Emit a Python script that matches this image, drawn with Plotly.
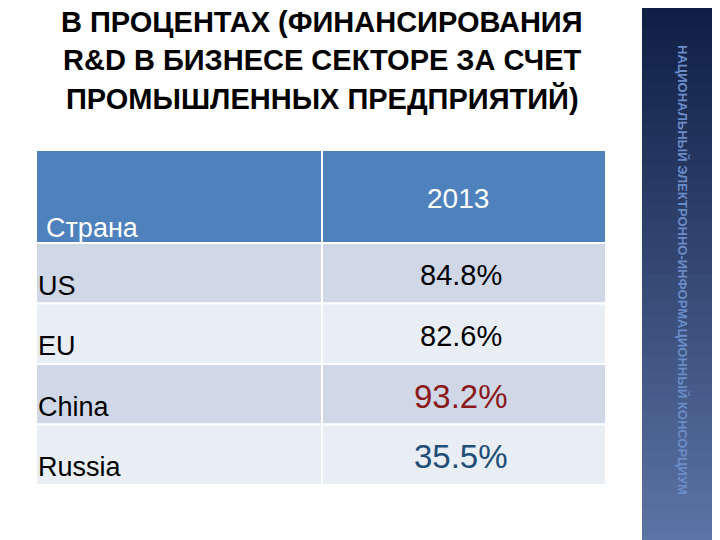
import plotly.graph_objects as go

title_lines = ["В ПРОЦЕНТАХ (ФИНАНСИРОВАНИЯ", "R&D В БИЗНЕСЕ СЕКТОРЕ ЗА СЧЕТ", "ПРОМЫШЛЕННЫХ ПРЕДПРИЯТИЙ)"]
header = ["Страна", "2013"]
countries = ["US", "EU", "China", "Russia"]
values = ["84.8%", "82.6%", "93.2%", "35.5%"]
side_text = "НАЦИОНАЛЬНЫЙ ЭЛЕКТРОННО-ИНФОРМАЦИОННЫЙ КОНСОРЦИУМ"

val_style = [("#000000", 29), ("#000000", 29), ("#8B1A1A", 33), ("#1F4E79", 33)]

fig = go.Figure()
shapes = []
ann = []

# sidebar gradient
top, bot = (14, 30, 68), (92, 116, 166)
n = 40
for i in range(n):
    t = i / (n - 1)
    c = tuple(int(top[k] + (bot[k] - top[k]) * t) for k in range(3))
    shapes.append(dict(type="rect", x0=642, x1=716, y0=548 * i / n, y1=548 * (i + 1) / n + 1,
                       fillcolor="rgb(%d,%d,%d)" % c, line_width=0, layer="below"))
shapes.append(dict(type="rect", x0=712, x1=730, y0=0, y1=550, fillcolor="#333333", line_width=0))
ann.append(dict(x=683, y=270, text="<b>" + side_text + "</b>", textangle=90, showarrow=False,
                font=dict(size=13, color="#6A8CC8", family="Liberation Sans")))

# title
for i, line in enumerate(title_lines):
    ann.append(dict(x=322, y=22 + 38 * i, text="<b>" + line + "</b>", showarrow=False,
                    font=dict(size=29, color="black", family="Liberation Sans")))

# table
x0, xm, x1 = 36, 322, 606
shapes.append(dict(type="rect", x0=x0, x1=x1, y0=150, y1=243, fillcolor="#4F81BD", line=dict(color="white", width=2)))
shapes.append(dict(type="line", x0=xm, x1=xm, y0=150, y1=243, line=dict(color="white", width=2)))
ann.append(dict(x=44, y=228, text=header[0], xanchor="left", showarrow=False,
                font=dict(size=27, color="white", family="Liberation Sans")))
ann.append(dict(x=458, y=198, text=header[1], showarrow=False,
                font=dict(size=28, color="white", family="Liberation Sans")))
row_h = 60.5
for i, (c, v) in enumerate(zip(countries, values)):
    ya = 243 + row_h * i
    yb = ya + row_h
    fill = "#D0D8E8" if i % 2 == 0 else "#E9EDF4"
    shapes.append(dict(type="rect", x0=x0, x1=x1, y0=ya, y1=yb, fillcolor=fill, line=dict(color="white", width=2)))
    shapes.append(dict(type="line", x0=xm, x1=xm, y0=ya, y1=yb, line=dict(color="white", width=2)))
    ann.append(dict(x=36, y=yb - 18, text=c, xanchor="left", showarrow=False,
                    font=dict(size=27, color="black", family="Liberation Sans")))
    col, sz = val_style[i]
    ann.append(dict(x=461, y=ya + 32, text=v, showarrow=False,
                    font=dict(size=sz, color=col, family="Liberation Sans")))

# page has an 8px body margin, so shift the coordinate window by 8
fig.update_layout(width=720, height=540, margin=dict(l=0, r=0, t=0, b=0),
                  plot_bgcolor="white", paper_bgcolor="white", shapes=shapes, annotations=ann,
                  xaxis=dict(range=[8, 728], visible=False, fixedrange=True),
                  yaxis=dict(range=[548, 8], visible=False, fixedrange=True),
                  showlegend=False)
fig.write_html("out.html")
